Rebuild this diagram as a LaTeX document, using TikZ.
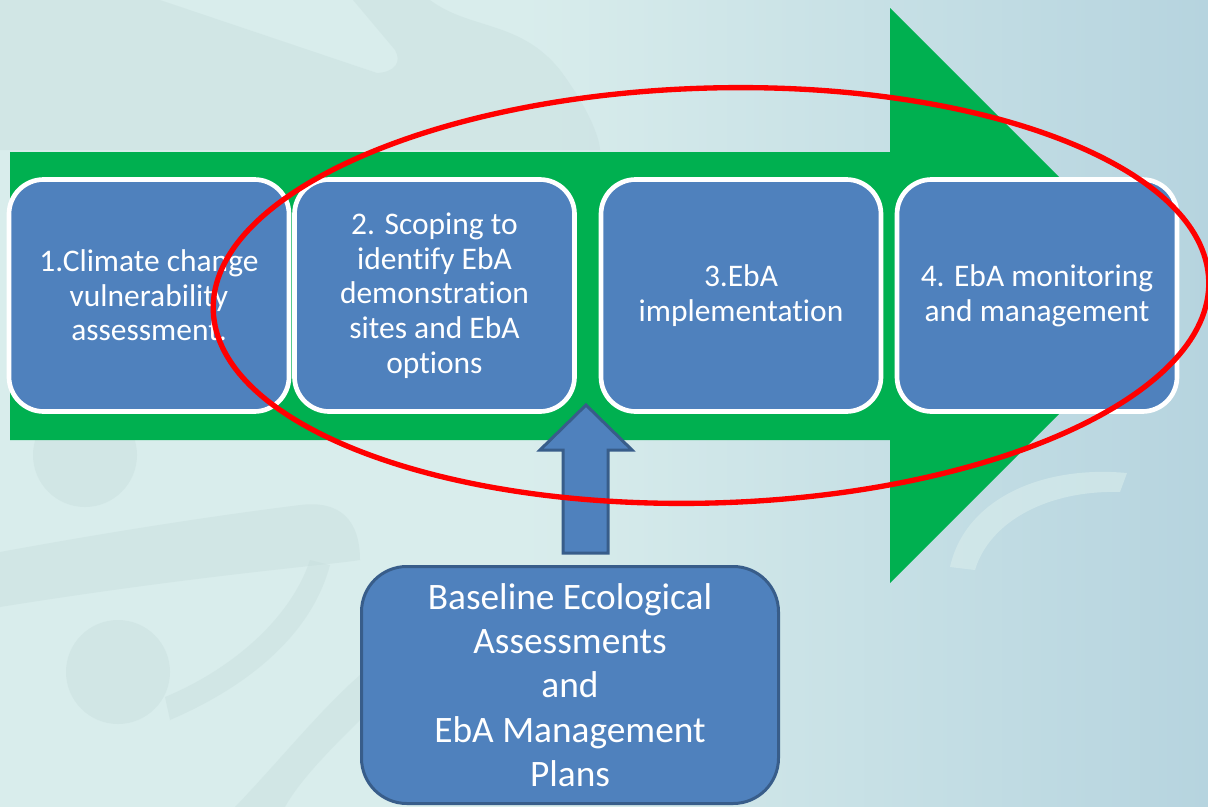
\documentclass[tikz,border=0pt]{standalone}
\usepackage{fontspec}
\setmainfont{Carlito}[Ligatures=NoCommon]
\definecolor{boxblue}{HTML}{4F81BD}
\definecolor{boxedge}{HTML}{385D8A}
\definecolor{arrgreen}{HTML}{00B050}
\definecolor{bgA}{HTML}{D9EDEC}
\definecolor{bgB}{HTML}{B6D4DF}
\definecolor{swirl}{HTML}{C4DBDA}
\tikzset{
  stepbox/.style={draw=white, line width=3.5pt, fill=boxblue, rounded corners=26pt,
    minimum width=210pt, minimum height=174pt, inner sep=0pt, text=white,
    align=center, font=\fontsize{23.6}{26}\selectfont},
  basebox/.style={draw=boxedge, line width=2.25pt, fill=boxblue, rounded corners=34pt,
    minimum width=312.75pt, minimum height=177.75pt, inner sep=0pt, text=white,
    align=center, font=\fontsize{28}{33.2}\selectfont},
  faint/.style={fill=swirl, fill opacity=0.35},
  lightband/.style={fill=bgA, fill opacity=0.6},
}
\begin{document}
\begin{tikzpicture}[x=0.75pt,y=-0.75pt]
\useasboundingbox (0,0) rectangle (1208,807);
% background
\fill[bgA] (0,0) rectangle (1208,807);
\shade[left color=bgA, right color=bgB] (520,0) rectangle (1208,807);
% faint swirl decoration (top left)
\fill[faint] (0,0) -- (160,0) -- (377,73) .. controls (395,72) and (402,62) .. (395,50)
  -- (353,0) -- (430,0) .. controls (470,30) and (520,20) .. (560,70)
  .. controls (590,110) and (600,140) .. (600,150) -- (0,150) -- cycle;
% faint swirl decoration (bottom left)
\fill[faint] (85,455) circle [radius=52];
\fill[faint] (118,672) circle [radius=52];
\fill[faint] (0,552) .. controls (120,530) and (220,515) .. (300,505)
  .. controls (340,500) and (360,520) .. (360,560)
  .. controls (330,565) and (200,575) .. (0,607) -- cycle;
\fill[faint] (165,697) .. controls (230,670) and (290,620) .. (310,560)
  -- (330,565) .. controls (310,640) and (240,690) .. (170,720) -- cycle;
\fill[faint] (235,807) .. controls (280,760) and (320,710) .. (360,675)
  -- (360,720) .. controls (330,750) and (300,780) .. (285,807) -- cycle;
% lighter arc (right)
\fill[lightband] (950,567) .. controls (965,500) and (1040,465) .. (1127,473)
  -- (1120,492) .. controls (1050,490) and (990,520) .. (975,570) -- cycle;
% green process arrow
\fill[arrgreen] (10,152) -- (890,152) -- (890,8) -- (1177.5,295.5) -- (890,583)
  -- (890,440) -- (10,440) -- cycle;
% step boxes
\node[stepbox] (s1) at (149,295.5) {1.Climate change\\vulnerability\\assessment.};
\node[stepbox] (s2) at (434.5,295.5) {2. Scoping to\\identify EbA\\demonstration\\sites and EbA\\options};
\node[stepbox] (s3) at (741,295.5) {3.EbA\\implementation};
\node[stepbox] (s4) at (1037,295.5) {4. EbA monitoring\\and management};
% baseline box
\node[basebox] (base) at (570,685) {Baseline Ecological\\Assessments\\and\\EbA Management\\Plans};
% block arrow up
\coordinate (tip) at (586,405);
\draw[boxedge, fill=boxblue, line width=2.25pt, line join=miter]
  (tip) -- ++(46,45) -- ++(-24,0) -- ++(0,103) -- ++(-45,0) -- ++(0,-103)
  -- ++(-23,0) -- cycle;
% red highlight ellipse
\begin{scope}[shift={(711,295.5)}, rotate=1.7]
  \draw[red, line width=4pt] (0,0) ellipse [x radius=373.5pt, y radius=155.6pt];
\end{scope}
\end{tikzpicture}
\end{document}
